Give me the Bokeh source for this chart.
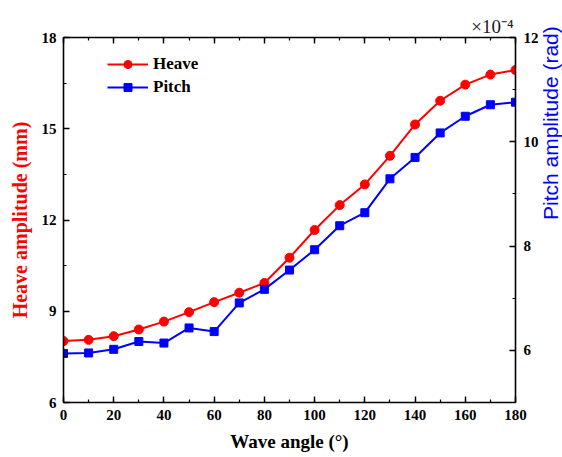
import math
from bokeh.plotting import figure
from bokeh.models import Range1d, LinearAxis, SingleIntervalTicker, Title
from bokeh.embed import file_html
from bokeh.resources import INLINE

wave_angle = [0, 10, 20, 30, 40, 50, 60, 70, 80, 90, 100, 110, 120, 130, 140, 150, 160, 170, 180]
heave_mm = [8.02, 8.06, 8.18, 8.40, 8.66, 8.97, 9.30, 9.61, 9.93, 10.76, 11.67, 12.49, 13.17,
            14.11, 15.14, 15.92, 16.45, 16.78, 16.93]
pitch_e4 = [5.94, 5.95, 6.02, 6.17, 6.14, 6.43, 6.36, 6.91, 7.17, 7.54, 7.93, 8.39, 8.64,
            9.29, 9.70, 10.17, 10.49, 10.71, 10.76]

SERIF = "Liberation Serif"
SANS = "Liberation Sans"
RED = "#ff0000"
BLUE = "#0000ff"

p = figure(frame_width=452, frame_height=365, output_backend="svg", toolbar_location=None,
           x_range=Range1d(0, 180), y_range=Range1d(6, 18),
           min_border_left=63, min_border_top=37, min_border_right=47, min_border_bottom=55)
p.extra_y_ranges = {"pitch": Range1d(5, 12)}
p.xgrid.visible = False
p.ygrid.visible = False
p.outline_line_color = None
p.background_fill_color = "white"
p.border_fill_color = "white"


def style_axis(ax, label_visible=True):
    ax.axis_line_width = 1.6
    ax.axis_line_color = "black"
    ax.major_tick_in = 6
    ax.major_tick_out = 0
    ax.minor_tick_in = 3
    ax.minor_tick_out = 0
    ax.major_tick_line_width = 1.4
    ax.minor_tick_line_width = 1.2
    ax.major_label_text_font = SERIF
    ax.major_label_text_font_style = "bold"
    ax.major_label_text_font_size = "15px"
    ax.major_label_text_color = "black" if label_visible else None


# bottom axis
xa = p.xaxis[0]
xa.ticker = SingleIntervalTicker(interval=20, num_minor_ticks=2)
style_axis(xa)
xa.major_label_standoff = 7
xa.axis_label = "Wave angle (°)"
xa.axis_label_text_font = SERIF
xa.axis_label_text_font_style = "bold"
xa.axis_label_text_font_size = "19px"
xa.axis_label_text_color = "black"
xa.axis_label_standoff = 8

# left axis
ya = p.yaxis[0]
ya.ticker = SingleIntervalTicker(interval=3, num_minor_ticks=2)
style_axis(ya)
ya.major_label_standoff = 7
ya.axis_label = "Heave amplitude (mm)"
ya.axis_label_text_font = SERIF
ya.axis_label_text_font_style = "bold"
ya.axis_label_text_font_size = "20px"
ya.axis_label_text_color = RED
ya.axis_label_standoff = 8

# right axis
ra = LinearAxis(y_range_name="pitch", ticker=SingleIntervalTicker(interval=2, num_minor_ticks=2))
style_axis(ra)
ra.major_label_standoff = 8
ra.axis_label = "Pitch amplitude (rad)"
ra.axis_label_text_font = SANS
ra.axis_label_text_font_style = "normal"
ra.axis_label_text_font_size = "21px"
ra.axis_label_text_color = BLUE
ra.axis_label_orientation = math.pi / 2
ra.axis_label_standoff = 9
p.add_layout(ra, "right")

# top axis (ticks only)
ta = LinearAxis(ticker=SingleIntervalTicker(interval=20, num_minor_ticks=2))
style_axis(ta, label_visible=False)
ta.major_label_text_font_size = "1px"
ta.major_label_standoff = 0
p.add_layout(ta, "above")

# x10^-4 multiplier of the right axis
p.add_layout(Title(text="×10⁻⁴", align="right", offset=2, standoff=2,
                   text_font=SERIF, text_font_style="normal", text_font_size="19px",
                   text_color="#1a1a1a"), "above")

# series
p.line(wave_angle, heave_mm, color=RED, line_width=2, legend_label="Heave")
p.scatter(wave_angle, heave_mm, marker="circle", size=9, color=RED, legend_label="Heave")
p.line(wave_angle, pitch_e4, color=BLUE, line_width=2, y_range_name="pitch", legend_label="Pitch")
p.scatter(wave_angle, pitch_e4, marker="square", size=8, color=BLUE, y_range_name="pitch",
          legend_label="Pitch")

lg = p.legend[0]
lg.location = (44, 305)
lg.margin = 0
lg.padding = 0
lg.spacing = 3
lg.glyph_width = 41
lg.glyph_height = 20
lg.label_height = 20
lg.label_standoff = 5
lg.label_text_font = SERIF
lg.label_text_font_style = "bold"
lg.label_text_font_size = "17px"
lg.label_text_color = "black"
lg.border_line_color = None
lg.background_fill_alpha = 0

open("out.html", "w").write(file_html(p, INLINE))
